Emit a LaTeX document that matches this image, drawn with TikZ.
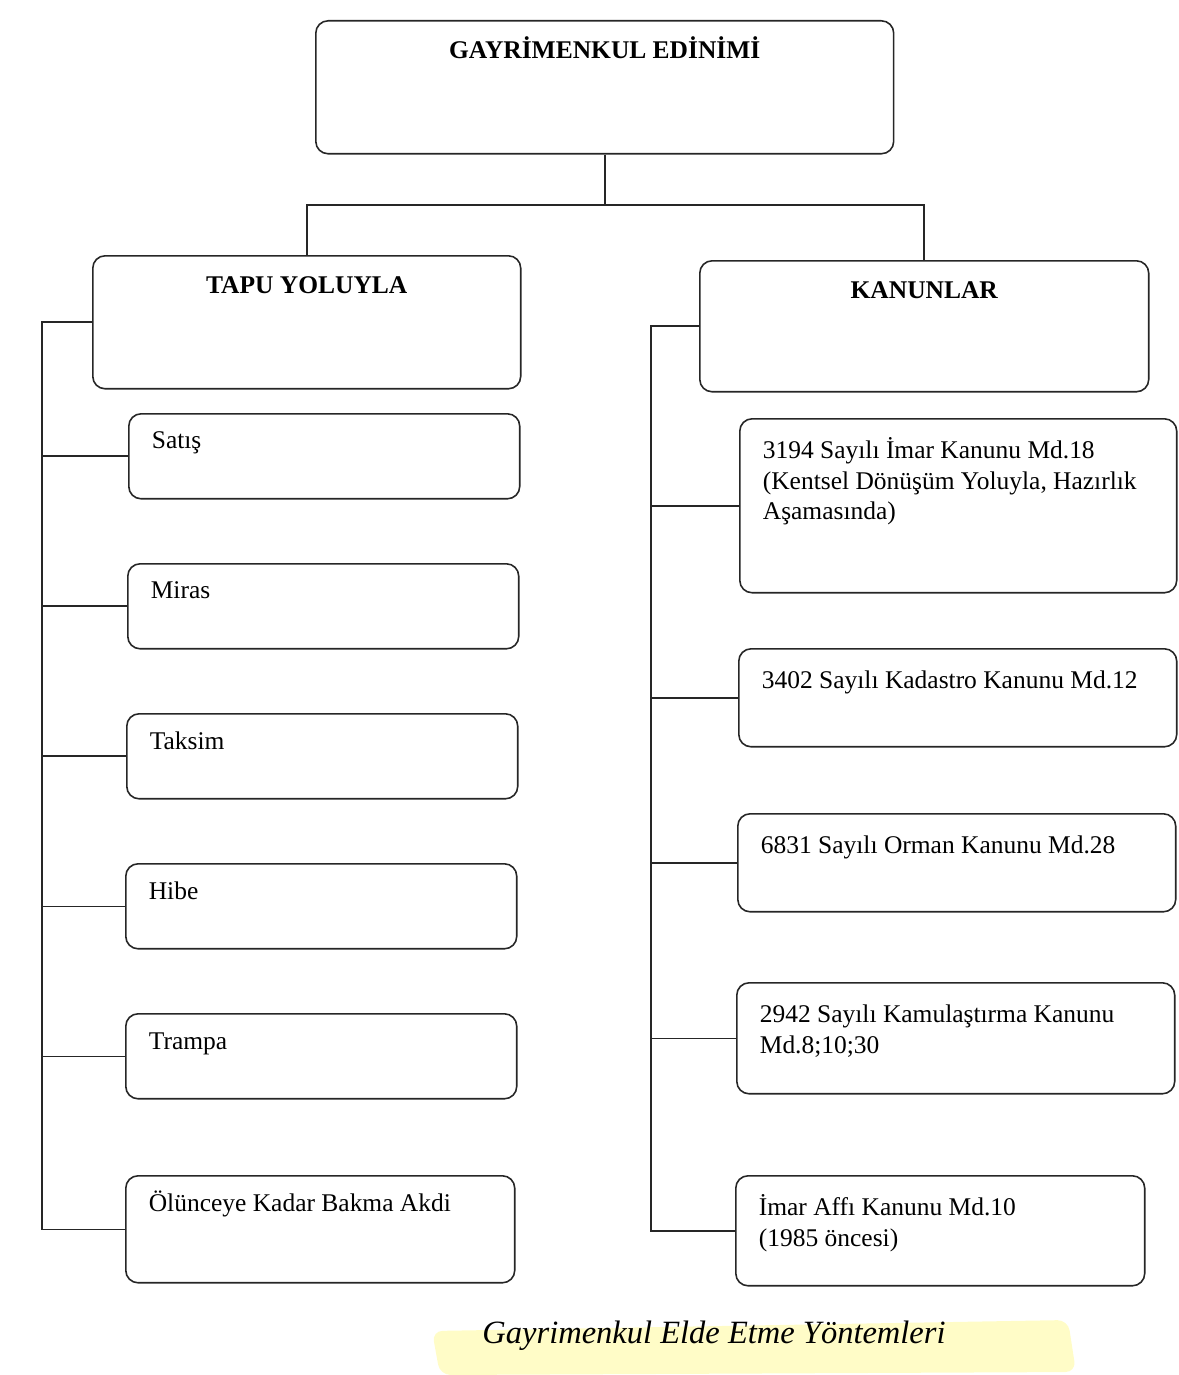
\documentclass[tikz,border=0pt]{standalone}
\usepackage{fontspec}
\setmainfont{Liberation Serif}
\usetikzlibrary{positioning}
\newcommand{\bodyfont}{\fontsize{14.5}{17.4}\selectfont}

\begin{document}
\begin{tikzpicture}[x=0.02cm,y=-0.02cm,
    item/.style={draw=black!85,line width=0.9pt,rounded corners=7pt,
                 anchor=north west,inner sep=0pt,
                 minimum width=7.82cm,minimum height=1.7cm},
    head/.style={item,minimum width=8.56cm,minimum height=2.66cm},
    itemtext/.style={anchor=base west,xshift=0.47cm,yshift=-0.72cm,
                     align=left,inner sep=0pt,font=\bodyfont},
    lawtext/.style={itemtext,yshift=-0.09cm},
    lines/.style={yshift=-#1*17.4pt},
    headtext/.style={anchor=base,yshift=-0.78cm,inner sep=0pt,
                     font=\bodyfont\bfseries},
    link/.style={draw=black!85,line width=0.9pt}]
  \useasboundingbox (0,0) rectangle (1179,1375);

  % top
  \node[head,minimum width=11.56cm,
        label={[headtext]north:GAYRİMENKUL EDİNİMİ}] (root) at (315,20) {};
  \node[head,label={[headtext]north:TAPU YOLUYLA}] (tapu) at (92,255) {};
  \node[head,minimum width=8.98cm,minimum height=2.62cm,
        label={[headtext]north:KANUNLAR}] (kanun) at (699,260) {};

  % left column
  \node[item,label={[itemtext]north west:Satış}]  (satis)  at (128,413) {};
  \node[item,label={[itemtext]north west:Miras}]  (miras)  at (127,563) {};
  \node[item,label={[itemtext]north west:Taksim}] (taksim) at (126,713) {};
  \node[item,label={[itemtext]north west:Hibe}]   (hibe)   at (125,863) {};
  \node[item,label={[itemtext]north west:Trampa}] (trampa) at (125,1013) {};
  \node[item,minimum width=7.78cm,minimum height=2.14cm,
        label={[itemtext]north west:Ölünceye Kadar Bakma Akdi}] (olum) at (125,1175) {};

  % right column
  \node[item,minimum width=8.74cm,minimum height=3.48cm,
        label={[lawtext,lines=2]north west:3194 Sayılı İmar Kanunu Md.18\\(Kentsel Dönüşüm Yoluyla, Hazırlık\\Aşamasında)}]
        (imar) at (739,418) {};
  \node[item,minimum width=8.76cm,minimum height=1.96cm,
        label={[lawtext]north west:3402 Sayılı Kadastro Kanunu Md.12}] (kadastro) at (738,648) {};
  \node[item,minimum width=8.76cm,minimum height=1.96cm,
        label={[lawtext]north west:6831 Sayılı Orman Kanunu Md.28}] (orman) at (737,813) {};
  \node[item,minimum width=8.76cm,minimum height=2.22cm,
        label={[lawtext,lines=1]north west:2942 Sayılı Kamulaştırma Kanunu\\Md.8;10;30}] (kamu) at (736,982) {};
  \node[item,minimum width=8.18cm,minimum height=2.2cm,
        label={[lawtext,lines=1]north west:İmar Affı Kanunu Md.10\\(1985 öncesi)}] (af) at (735,1175) {};

  % connectors
  \coordinate (split) at (root.south |- 0,205);
  \draw[link] (root.south) -- (split);
  \draw[link] (tapu.north) |- (split) -| (kanun.north);

  \coordinate (ltop) at (42,0 |- tapu.west);
  \coordinate (lbot) at (42,0 |- olum.west);
  \draw[link] (tapu.west) -- (ltop) -- (lbot) -- (olum.west);
  \foreach \n in {satis,miras,taksim,hibe,trampa}
    \draw[link] (ltop |- \n.west) -- (\n.west);

  \coordinate (rtop) at (651,0 |- kanun.west);
  \coordinate (rbot) at (651,0 |- af.west);
  \draw[link] (kanun.west) -- (rtop) -- (rbot) -- (af.west);
  \foreach \n in {imar,kadastro,orman,kamu}
    \draw[link] (rtop |- \n.west) -- (\n.west);

  % caption
  \fill[yellow!22,rounded corners=6pt] (432,1331) -- (1068,1320) -- (1076,1372) -- (440,1375) -- cycle;
  \node[anchor=base,inner sep=0pt,font=\fontsize{18.5}{22}\selectfont\itshape]
    (caption) at (714,1343) {Gayrimenkul Elde Etme Yöntemleri};
\end{tikzpicture}
\end{document}
